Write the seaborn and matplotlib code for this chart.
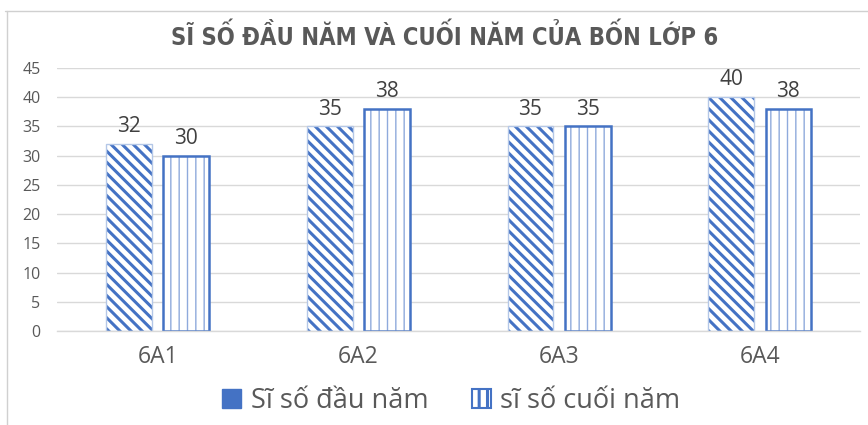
import matplotlib
matplotlib.use("Agg")
import matplotlib.pyplot as plt
from matplotlib.patches import Patch, Rectangle
from matplotlib.lines import Line2D
import seaborn as sns
import pandas as pd

classes = ["6A1", "6A2", "6A3", "6A4"]
series_names = ["Sĩ số đầu năm", "sĩ số cuối năm"]
start_values = [32, 35, 35, 40]
end_values = [30, 38, 35, 38]
yticks = [0, 5, 10, 15, 20, 25, 30, 35, 40, 45]
title = "SĨ SỐ ĐẦU NĂM VÀ CUỐI NĂM CỦA BỐN LỚP 6"

BLUE = "#4472C4"
LIGHT = "#8FAADC"

df = pd.DataFrame({
    "class": classes * 2,
    "series": [series_names[0]] * 4 + [series_names[1]] * 4,
    "value": start_values + end_values,
})

sns.set_theme(style="white")
plt.rcParams["font.family"] = ["Open Sans", "DejaVu Sans"]
plt.rcParams["hatch.linewidth"] = 2.2

fig = plt.figure(figsize=(8.68, 4.25), dpi=100)
ax = fig.add_axes([0.066, 0.221, 0.925, 0.619])

sns.barplot(data=df, x="class", y="value", hue="series", order=classes,
            hue_order=series_names, width=0.57, gap=0.2, ax=ax,
            palette=["white", "white"], legend=False, saturation=1)

containers = ax.containers
for p in containers[0].patches:
    p.set_facecolor("white")
    p.set_edgecolor(BLUE)
    p.set_hatch("\\\\\\")
    p.set_linewidth(0)
    ax.add_patch(Rectangle(p.get_xy(), p.get_width(), p.get_height(),
                           fill=False, edgecolor="#B4C7E7", linewidth=1.0, zorder=p.get_zorder() + 0.1))
for p in containers[1].patches:
    p.set_facecolor("white")
    p.set_edgecolor(LIGHT)
    p.set_hatch("||")
    p.set_linewidth(0)
    if hasattr(p, "set_hatch_linewidth"):
        p.set_hatch_linewidth(1.0)
    ax.add_patch(Rectangle(p.get_xy(), p.get_width(), p.get_height(),
                           fill=False, edgecolor=BLUE, linewidth=1.8, zorder=p.get_zorder() + 0.1))

for c in containers:
    ax.bar_label(c, labels=[f"{v:.0f}" for v in c.datavalues], padding=5,
                 fontsize=15, color="#404040")

ax.set_ylim(0, 45)
ax.set_yticks(yticks)
ax.set_yticklabels([str(t) for t in yticks], fontsize=11.5, color="#595959")
ax.tick_params(axis="y", length=0, pad=12)
ax.tick_params(axis="x", length=0, pad=10, labelsize=16.5, labelcolor="#595959")
ax.set_xlabel("")
ax.set_ylabel("")
ax.grid(axis="y", color="#D9D9D9", linewidth=1)
ax.set_axisbelow(True)
for s in ["top", "right", "left"]:
    ax.spines[s].set_visible(False)
ax.spines["bottom"].set_color("#D9D9D9")
ax.spines["bottom"].set_linewidth(1)

fig.text(0.512, 0.913, title, ha="center", va="center", fontsize=17,
         fontweight="bold", color="#595959", fontstretch="condensed",
         family=["DejaVu Sans"])

h1 = Patch(facecolor=BLUE, edgecolor=BLUE)
h2 = Patch(facecolor="white", edgecolor=BLUE, hatch="||", linewidth=1.5)
fig.legend([h1, h2], series_names, loc="center", bbox_to_anchor=(0.52, 0.057),
           ncol=2, frameon=False, fontsize=19.5, handlelength=0.7, handleheight=0.7,
           handletextpad=0.35, columnspacing=1.6, labelcolor="#595959")

# spreadsheet frame lines
fig.add_artist(Line2D([0.006, 1.0], [0.975, 0.975], color="#D0D0D0", lw=1, transform=fig.transFigure))
fig.add_artist(Line2D([0.008, 0.008], [0.0, 0.975], color="#D0D0D0", lw=1, transform=fig.transFigure))

fig.savefig("out.png", dpi=100, facecolor="white")
